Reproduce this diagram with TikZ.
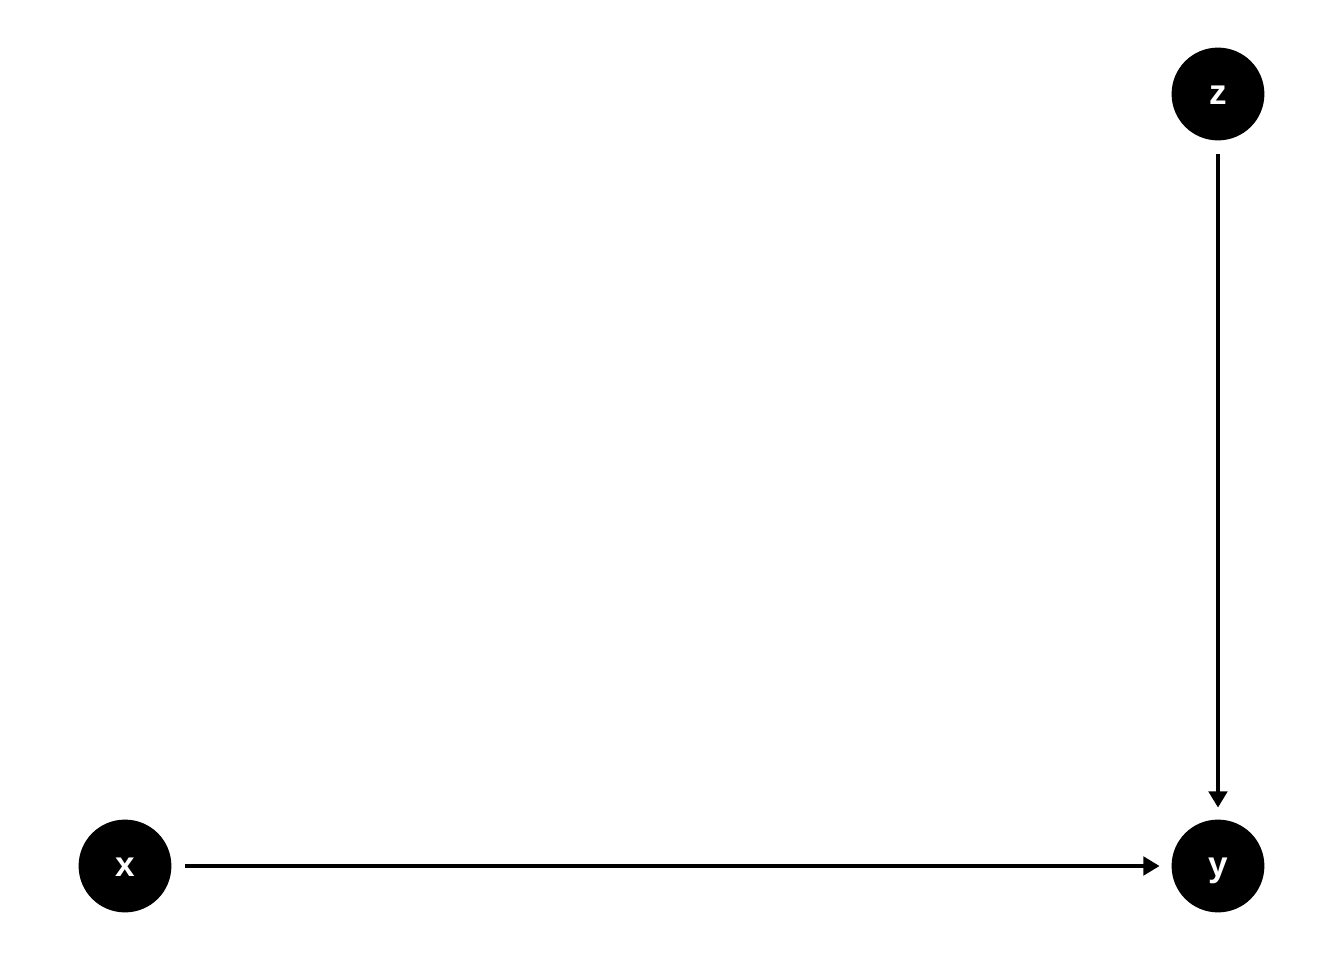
\documentclass[tikz,border=0pt]{standalone}
\usepackage{fontspec}
\setmainfont{Liberation Sans}
\usetikzlibrary{arrows.meta}

\tikzset{
  varnode/.style={circle,fill=black,draw=black,minimum size=0.914cm,inner sep=0pt,
    text=white,font=\fontsize{10}{11}\selectfont\bfseries,
    text height=1.1ex,text depth=0pt},
  causal/.style={-{Triangle[length=4.6pt,width=5.2pt]},line width=1.1pt,
    shorten >=0.12cm,shorten <=0.14cm}
}

\begin{document}
\begin{tikzpicture}
\useasboundingbox (0,0) rectangle (13.44,9.6);
\node[varnode] (x) at (1.25,0.94) {x};
\node[varnode] (y) at (12.18,0.94) {y};
\node[varnode] (z) at (12.18,8.66) {z};
\draw[causal] (x) -- (y);
\draw[causal] (z) -- (y);
\end{tikzpicture}
\end{document}
